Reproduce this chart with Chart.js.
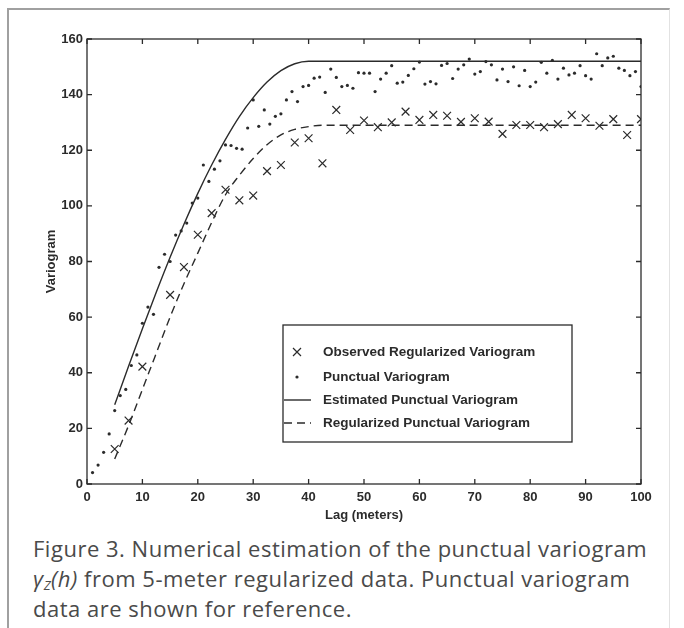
<!DOCTYPE html>
<html>
<head>
<meta charset="utf-8">
<script src="https://cdn.jsdelivr.net/npm/chart.js@4.4.0/dist/chart.umd.min.js"></script>
<style>
    html, body { margin: 0; padding: 0; background: #fff; }
    body { width: 684px; height: 628px; position: relative; overflow: hidden; }
    .frame {
        position: absolute; left: 7px; top: 8px; width: 660px; height: 640px;
        border-left: 2px solid #a0a0a0; border-top: 2px solid #a0a0a0; border-right: 1px solid #e2e2e2;
    }
    #wrap { position: absolute; left: 0; top: 0; width: 684px; height: 530px; }
    .caption {
        position: absolute; left: 33px; top: 533px;
        font-family: "Open Sans", Roboto, sans-serif; font-size: 22px; line-height: 30px; color: #4a4a4a;
        white-space: nowrap;
    }
    .caption span { display: block; }
    .caption sub { font-size: 13px; vertical-align: -3px; line-height: 0; }
</style>
</head>
<body>
<div class="frame"></div>
<div id="wrap"><canvas id="chart" width="684" height="530"></canvas></div>
<div class="caption">
    <span id="cap1">Figure 3. Numerical estimation of the punctual variogram</span>
    <span><i>γ<sub>Z</sub>(h)</i> from 5-meter regularized data. Punctual variogram</span>
    <span>data are shown for reference.</span>
</div>

<script>
// Observed regularized variogram (x marks), every 2.5 m
const lagObserved = [5, 7.5, 10, 15, 17.5, 20, 22.5, 25, 27.5, 30, 32.5, 35, 37.5, 40, 42.5, 45, 47.5, 50,
    52.5, 55, 57.5, 60, 62.5, 65, 67.5, 70, 72.5, 75, 77.5, 80, 82.5, 85, 87.5, 90, 92.5, 95, 97.5, 100];
const observedRegularized = [12.6, 22.8, 42.2, 68.0, 78.0, 89.6, 97.4, 105.8, 102.0, 103.7, 112.5, 114.7, 122.8, 124.3,
    115.3, 134.5, 127.3, 130.7, 128.3, 130.0, 133.9, 130.9, 132.7, 132.4, 130.2, 131.5, 130.3, 125.9, 129.1, 129.1,
    128.3, 129.4, 132.7, 131.5, 128.8, 131.2, 125.5, 131.2];

// Punctual variogram (dots), lags 1..100 m
const punctual = [4.1, 6.8, 11.4, 18.0, 26.4, 31.8, 34.0, 42.6, 46.4, 57.8,
    63.6, 61.0, 77.9, 82.6, 80.0, 89.5, 91.0, 93.8, 101.0, 102.8,
    114.7, 108.8, 113.2, 116.2, 121.9, 121.7, 120.7, 120.4, 128.0, 138.1,
    128.6, 134.5, 129.4, 132.2, 133.1, 138.1, 141.1, 137.5, 142.9, 143.3,
    145.9, 146.3, 140.8, 149.2, 146.2, 142.9, 143.3, 142.3, 147.9, 147.7,
    147.7, 141.1, 145.6, 147.7, 150.4, 144.1, 144.5, 146.9, 149.3, 151.7,
    143.8, 144.7, 143.9, 150.5, 151.2, 145.8, 149.2, 150.7, 152.8, 147.4,
    148.3, 151.9, 150.7, 145.3, 149.2, 144.7, 150.0, 143.2, 148.7, 142.9,
    144.5, 151.6, 147.7, 152.3, 145.6, 149.5, 147.1, 147.7, 150.4, 146.8,
    145.6, 154.7, 150.4, 153.2, 153.8, 149.5, 148.7, 146.8, 148.3, 142.9];

// Model curves
const lagModel = [5, 7.5, 10, 12.5, 15, 17.5, 20, 22.5, 25, 27.5, 30, 32.5, 35, 37.5, 40, 42.5, 45, 100];
const estimatedPunctual = [28.5, 42.3, 55.8, 68.9, 81.5, 93.4, 104.5, 114.7, 123.9, 132.1, 138.9, 144.5, 148.6, 151.1, 152, 152, 152, 152];
const regularizedPunctual = [9, 21, 34, 47, 60, 72, 83, 94, 104, 111, 117, 122, 125.5, 127.5, 128.5, 129, 129, 129];

const xTicks = [0, 10, 20, 30, 40, 50, 60, 70, 80, 90, 100];
const yTicks = [0, 20, 40, 60, 80, 100, 120, 140, 160];

const INK = '#2b2b2b';
const tickFont = { family: '"Liberation Sans", Arial, sans-serif', size: 13, weight: 'bold' };

function points(xs, ys) {
    return ys.map((y, i) => ({ x: xs[i], y: y }));
}

// Box, inside tick marks and the legend, MATLAB style
const framePlugin = {
    id: 'frame',
    afterDraw(chart) {
        const ctx = chart.ctx;
        const a = chart.chartArea;
        const xs = chart.scales.x, ys = chart.scales.y;
        ctx.save();
        ctx.strokeStyle = INK;
        ctx.lineWidth = 1.3;
        ctx.strokeRect(a.left, a.top, a.right - a.left, a.bottom - a.top);
        ctx.beginPath();
        xTicks.forEach(v => {
            const px = xs.getPixelForValue(v);
            ctx.moveTo(px, a.bottom); ctx.lineTo(px, a.bottom - 5);
            ctx.moveTo(px, a.top); ctx.lineTo(px, a.top + 5);
        });
        yTicks.forEach(v => {
            const py = ys.getPixelForValue(v);
            ctx.moveTo(a.left, py); ctx.lineTo(a.left + 5, py);
            ctx.moveTo(a.right, py); ctx.lineTo(a.right - 5, py);
        });
        ctx.stroke();

        // legend
        const L = 283, T = 325, R = 572, B = 442;
        ctx.fillStyle = '#fff';
        ctx.fillRect(L, T, R - L, B - T);
        ctx.strokeRect(L, T, R - L, B - T);
        const rows = [352, 377, 400, 423];
        const labels = chart.data.datasets.map(d => d.label);
        ctx.font = 'bold 13.5px "Liberation Sans", Arial, sans-serif';
        ctx.fillStyle = INK;
        ctx.textBaseline = 'middle';
        labels.forEach((t, i) => ctx.fillText(t, 323, rows[i]));
        // symbols
        ctx.lineWidth = 1.2;
        ctx.beginPath();
        ctx.moveTo(293, rows[0] - 4); ctx.lineTo(301, rows[0] + 4);
        ctx.moveTo(301, rows[0] - 4); ctx.lineTo(293, rows[0] + 4);
        ctx.stroke();
        ctx.beginPath();
        ctx.arc(297, rows[1], 1.6, 0, Math.PI * 2);
        ctx.fill();
        ctx.lineWidth = 1.4;
        ctx.beginPath();
        ctx.moveTo(284, rows[2]); ctx.lineTo(311, rows[2]);
        ctx.stroke();
        ctx.setLineDash([8, 5]);
        ctx.beginPath();
        ctx.moveTo(284, rows[3]); ctx.lineTo(311, rows[3]);
        ctx.stroke();
        ctx.restore();
    }
};

new Chart(document.getElementById('chart'), {
    type: 'scatter',
    data: {
        datasets: [{
            label: 'Observed Regularized Variogram',
            data: points(lagObserved, observedRegularized),
            pointStyle: 'crossRot',
            pointRadius: 5.5,
            borderColor: INK,
            pointBorderWidth: 1.2,
            showLine: false
        }, {
            label: 'Punctual Variogram',
            data: punctual.map((v, i) => ({ x: i + 1, y: v })),
            pointStyle: 'circle',
            pointRadius: 1.6,
            backgroundColor: INK,
            pointBorderWidth: 0,
            showLine: false
        }, {
            label: 'Estimated Punctual Variogram',
            data: points(lagModel, estimatedPunctual),
            showLine: true,
            pointRadius: 0,
            borderColor: INK,
            borderWidth: 1.4,
            cubicInterpolationMode: 'monotone'
        }, {
            label: 'Regularized Punctual Variogram',
            data: points(lagModel, regularizedPunctual),
            showLine: true,
            pointRadius: 0,
            borderColor: INK,
            borderWidth: 1.4,
            borderDash: [8, 5],
            cubicInterpolationMode: 'monotone'
        }]
    },
    options: {
        responsive: false,
        animation: false,
        layout: { padding: { left: 0, top: 39, right: 43, bottom: 0 } },
        plugins: { legend: { display: false }, tooltip: { enabled: false } },
        scales: {
            x: {
                type: 'linear', min: 0, max: 100,
                afterFit: s => { s.height = 46; },
                afterBuildTicks: s => { s.ticks = xTicks.map(v => ({ value: v })); },
                grid: { display: false, drawTicks: false },
                border: { display: false },
                ticks: { color: INK, font: tickFont, padding: 6, maxRotation: 0 },
                title: { display: true, text: 'Lag (meters)', color: INK, font: tickFont, padding: { top: 0, bottom: 7 } }
            },
            y: {
                type: 'linear', min: 0, max: 160,
                afterFit: s => { s.width = 87; },
                afterBuildTicks: s => { s.ticks = yTicks.map(v => ({ value: v })); },
                grid: { display: false, drawTicks: false },
                border: { display: false },
                ticks: { color: INK, font: tickFont, padding: 4 },
                title: { display: true, text: 'Variogram', color: INK, font: tickFont, padding: { top: 44, bottom: 0 } }
            }
        }
    },
    plugins: [framePlugin]
});

// stretch the caption so its first line spans the same width as in the figure
function measureInline(el) {
    const r = document.createRange();
    r.selectNodeContents(el);
    return r.getBoundingClientRect().width;
}
const cap1 = document.getElementById('cap1');
const spacing = (614 - measureInline(cap1)) / cap1.textContent.length;
document.querySelector('.caption').style.letterSpacing = spacing.toFixed(2) + 'px';
</script>
</body>
</html>
